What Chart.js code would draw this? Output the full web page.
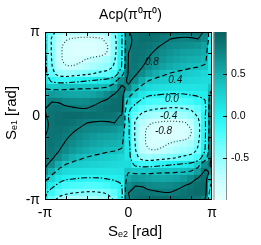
<!DOCTYPE html>
<html lang="en">
<head>
<meta charset="UTF-8">
<title>Acp(π0π0)</title>
<script src="https://cdn.jsdelivr.net/npm/chart.js"></script>
<style>
  * { margin: 0; padding: 0; box-sizing: border-box; }
  html, body { width: 261px; height: 245px; background: #fff; overflow: hidden; }
</style>
</head>
<body>
<canvas id="acp-chart" width="261" height="245"></canvas>
<script>
// ---- data ----
const PI = Math.PI;
// S_e2 (x) and S_e1 (y) grid nodes, in units of pi/12
const colSteps = [-12, -11, -10, -9, -8, -7, -6, -5, -4, -3, -2, -1, 0, 1, 2, 3, 4, 5, 6, 7, 8, 9, 10, 11, 12];
const rowSteps = [12, 11, 10, 9, 8, 7, 6, 5, 4, 3, 2, 1, 0, -1, -2, -3, -4, -5, -6, -7, -8, -9, -10, -11, -12];
// Acp values, one row per S_e1 node (top row = +pi)
const acpGrid = [
  [0.00, -0.30, -0.50, -0.57, -0.61, -0.63, -0.63, -0.62, -0.58, -0.50, -0.38, -0.03, 0.78, 0.88, 0.91, 0.92, 0.93, 0.92, 0.91, 0.90, 0.89, 0.88, 0.86, 0.78, 0.00],
  [0.05, -0.45, -0.68, -0.78, -0.82, -0.85, -0.86, -0.85, -0.83, -0.72, -0.48, -0.05, 0.74, 0.87, 0.90, 0.90, 0.88, 0.84, 0.80, 0.78, 0.77, 0.78, 0.80, 0.74, 0.05],
  [0.05, -0.45, -0.75, -0.85, -0.90, -0.92, -0.92, -0.91, -0.88, -0.80, -0.50, -0.05, 0.76, 0.87, 0.88, 0.86, 0.82, 0.78, 0.74, 0.72, 0.70, 0.68, 0.66, 0.60, 0.05],
  [0.05, -0.45, -0.75, -0.86, -0.92, -0.93, -0.93, -0.92, -0.88, -0.78, -0.48, -0.05, 0.80, 0.87, 0.86, 0.82, 0.77, 0.72, 0.67, 0.63, 0.60, 0.58, 0.56, 0.52, 0.05],
  [0.08, -0.42, -0.75, -0.85, -0.88, -0.84, -0.78, -0.72, -0.68, -0.60, -0.42, -0.03, 0.82, 0.87, 0.84, 0.78, 0.72, 0.66, 0.61, 0.57, 0.54, 0.51, 0.49, 0.46, 0.08],
  [0.10, -0.38, -0.70, -0.78, -0.78, -0.74, -0.68, -0.62, -0.56, -0.50, -0.35, 0.00, 0.84, 0.85, 0.80, 0.72, 0.64, 0.58, 0.53, 0.48, 0.45, 0.42, 0.40, 0.36, 0.10],
  [0.12, -0.30, -0.50, -0.55, -0.52, -0.48, -0.43, -0.38, -0.33, -0.28, -0.18, 0.25, 0.85, 0.82, 0.72, 0.60, 0.50, 0.43, 0.38, 0.35, 0.33, 0.30, 0.27, 0.22, 0.12],
  [0.18, -0.05, -0.12, -0.12, -0.08, -0.04, 0.00, 0.04, 0.08, 0.12, 0.30, 0.70, 0.84, 0.72, 0.52, 0.38, 0.32, 0.30, 0.28, 0.26, 0.24, 0.22, 0.20, 0.18, 0.18],
  [0.38, 0.33, 0.33, 0.35, 0.37, 0.38, 0.38, 0.39, 0.40, 0.45, 0.60, 0.85, 0.75, 0.50, 0.30, 0.20, 0.17, 0.15, 0.14, 0.13, 0.12, 0.12, 0.12, 0.13, 0.38],
  [0.55, 0.62, 0.60, 0.57, 0.55, 0.54, 0.55, 0.57, 0.63, 0.72, 0.83, 0.90, 0.50, 0.25, 0.10, 0.02, 0.00, -0.02, -0.03, -0.03, -0.02, 0.00, 0.02, 0.05, 0.55],
  [0.72, 0.80, 0.79, 0.74, 0.72, 0.71, 0.72, 0.76, 0.80, 0.86, 0.90, 0.92, 0.25, 0.05, -0.08, -0.15, -0.18, -0.20, -0.22, -0.22, -0.20, -0.15, -0.08, -0.02, 0.72],
  [0.80, 0.86, 0.87, 0.85, 0.83, 0.81, 0.81, 0.84, 0.87, 0.90, 0.92, 0.92, 0.05, -0.12, -0.28, -0.36, -0.40, -0.42, -0.44, -0.44, -0.42, -0.38, -0.28, -0.10, 0.80],
  [0.78, 0.88, 0.91, 0.92, 0.93, 0.92, 0.91, 0.90, 0.89, 0.88, 0.86, 0.78, 0.00, -0.30, -0.50, -0.57, -0.61, -0.63, -0.63, -0.62, -0.58, -0.50, -0.38, -0.03, 0.78],
  [0.74, 0.87, 0.90, 0.90, 0.88, 0.84, 0.80, 0.78, 0.77, 0.78, 0.80, 0.74, 0.05, -0.45, -0.68, -0.78, -0.82, -0.85, -0.86, -0.85, -0.83, -0.72, -0.48, -0.05, 0.74],
  [0.76, 0.87, 0.88, 0.86, 0.82, 0.78, 0.74, 0.72, 0.70, 0.68, 0.66, 0.60, 0.05, -0.45, -0.75, -0.85, -0.90, -0.92, -0.92, -0.91, -0.88, -0.80, -0.50, -0.05, 0.76],
  [0.80, 0.87, 0.86, 0.82, 0.77, 0.72, 0.67, 0.63, 0.60, 0.58, 0.56, 0.52, 0.05, -0.45, -0.75, -0.86, -0.92, -0.93, -0.93, -0.92, -0.88, -0.78, -0.48, -0.05, 0.80],
  [0.82, 0.87, 0.84, 0.78, 0.72, 0.66, 0.61, 0.57, 0.54, 0.51, 0.49, 0.46, 0.08, -0.42, -0.75, -0.85, -0.88, -0.84, -0.78, -0.72, -0.68, -0.60, -0.42, -0.03, 0.82],
  [0.84, 0.85, 0.80, 0.72, 0.64, 0.58, 0.53, 0.48, 0.45, 0.42, 0.40, 0.36, 0.10, -0.38, -0.70, -0.78, -0.78, -0.74, -0.68, -0.62, -0.56, -0.50, -0.35, 0.00, 0.84],
  [0.85, 0.82, 0.72, 0.60, 0.50, 0.43, 0.38, 0.35, 0.33, 0.30, 0.27, 0.22, 0.12, -0.30, -0.50, -0.55, -0.52, -0.48, -0.43, -0.38, -0.33, -0.28, -0.18, 0.25, 0.85],
  [0.84, 0.72, 0.52, 0.38, 0.32, 0.30, 0.28, 0.26, 0.24, 0.22, 0.20, 0.18, 0.18, -0.05, -0.12, -0.12, -0.08, -0.04, 0.00, 0.04, 0.08, 0.12, 0.30, 0.70, 0.84],
  [0.75, 0.50, 0.30, 0.20, 0.17, 0.15, 0.14, 0.13, 0.12, 0.12, 0.12, 0.13, 0.38, 0.33, 0.33, 0.35, 0.37, 0.38, 0.38, 0.39, 0.40, 0.45, 0.60, 0.85, 0.75],
  [0.50, 0.25, 0.10, 0.02, 0.00, -0.02, -0.03, -0.03, -0.02, 0.00, 0.02, 0.05, 0.55, 0.62, 0.60, 0.57, 0.55, 0.54, 0.55, 0.57, 0.63, 0.72, 0.83, 0.90, 0.50],
  [0.25, 0.05, -0.08, -0.15, -0.18, -0.20, -0.22, -0.22, -0.20, -0.15, -0.08, -0.02, 0.72, 0.80, 0.79, 0.74, 0.72, 0.71, 0.72, 0.76, 0.80, 0.86, 0.90, 0.92, 0.25],
  [0.05, -0.12, -0.28, -0.36, -0.40, -0.42, -0.44, -0.44, -0.42, -0.38, -0.28, -0.10, 0.80, 0.86, 0.87, 0.85, 0.83, 0.81, 0.81, 0.84, 0.87, 0.90, 0.92, 0.92, 0.05],
  [0.00, -0.30, -0.50, -0.57, -0.61, -0.63, -0.63, -0.62, -0.58, -0.50, -0.38, -0.03, 0.78, 0.88, 0.91, 0.92, 0.93, 0.92, 0.91, 0.90, 0.89, 0.88, 0.86, 0.78, 0.00]
];
const contourLevels = [0.8, 0.4, 0.0, -0.4, -0.8];
const contourLabels = ['0.8', '0.4', '0.0', '-0.4', '-0.8'];
const contourLabelU = [0.28, 0.56, 0.52, 0.48, 0.42];   // label spots, units of pi
const contourLabelV = [0.64, 0.43, 0.20, 0.00, -0.18];
const axisTickSteps = [-1, 0, 1];
const axisTickLabels = ['-π', '0', 'π'];
const minorTickSteps = [-0.75, -0.5, -0.25, 0, 0.25, 0.5, 0.75];
const cbTicks = [-0.5, 0.0, 0.5];

// ---- styling ----
const FONT = "'Liberation Sans', Arial, Helvetica, sans-serif";
const paletteStops = [
  [-1.0, [228, 255, 255]],
  [-0.8, [205, 255, 255]],
  [-0.5, [145, 255, 255]],
  [-0.2, [75, 252, 252]],
  [0.0, [38, 242, 242]],
  [0.4, [22, 192, 192]],
  [0.7, [15, 142, 142]],
  [1.0, [10, 96, 96]]
];
const levelStyle = {
  '0.8': { dash: [], color: '#000' },
  '0.4': { dash: [5, 3], color: '#000' },
  '0': { dash: [6, 2, 1.5, 2], color: '#000' },
  '-0.4': { dash: [3, 2.5], color: '#000' },
  '-0.8': { dash: [1, 2], color: '#333' }
};

function paletteColor(v) {
  if (v <= paletteStops[0][0]) v = paletteStops[0][0];
  for (let i = 1; i < paletteStops.length; i++) {
    const [v1, c1] = paletteStops[i];
    const [v0, c0] = paletteStops[i - 1];
    if (v <= v1 || i === paletteStops.length - 1) {
      const t = Math.min(1, Math.max(0, (v - v0) / (v1 - v0)));
      const c = c0.map((a, k) => Math.round(a + t * (c1[k] - a)));
      return `rgb(${c[0]},${c[1]},${c[2]})`;
    }
  }
}

// marching squares on acpGrid, segments chained into polylines
function contourLines(level) {
  const pts = {}, adj = {}, segs = [];
  const gx = j => colSteps[j] / 12 * PI;
  const gy = i => rowSteps[i] / 12 * PI;
  const above = z => z >= level;
  const edge = (key, xa, ya, za, xb, yb, zb) => {
    if (!pts[key]) {
      const t = (level - za) / (zb - za);
      pts[key] = { x: xa + t * (xb - xa), y: ya + t * (yb - ya) };
    }
    return key;
  };
  for (let i = 0; i < acpGrid.length - 1; i++) {
    for (let j = 0; j < acpGrid[0].length - 1; j++) {
      const tl = acpGrid[i][j], tr = acpGrid[i][j + 1];
      const br = acpGrid[i + 1][j + 1], bl = acpGrid[i + 1][j];
      const top = above(tl) !== above(tr) ? edge(`h${i},${j}`, gx(j), gy(i), tl, gx(j + 1), gy(i), tr) : null;
      const right = above(tr) !== above(br) ? edge(`v${i},${j + 1}`, gx(j + 1), gy(i), tr, gx(j + 1), gy(i + 1), br) : null;
      const bottom = above(bl) !== above(br) ? edge(`h${i + 1},${j}`, gx(j), gy(i + 1), bl, gx(j + 1), gy(i + 1), br) : null;
      const left = above(tl) !== above(bl) ? edge(`v${i},${j}`, gx(j), gy(i), tl, gx(j), gy(i + 1), bl) : null;
      const hit = [top, right, bottom, left].filter(Boolean);
      if (hit.length === 2) {
        segs.push(hit);
      } else if (hit.length === 4) {
        const centre = (tl + tr + br + bl) / 4;
        if (above(centre) === above(tl)) { segs.push([top, right]); segs.push([bottom, left]); }
        else { segs.push([top, left]); segs.push([right, bottom]); }
      }
    }
  }
  segs.forEach((s, k) => { (adj[s[0]] = adj[s[0]] || []).push(k); (adj[s[1]] = adj[s[1]] || []).push(k); });
  const used = segs.map(() => false);
  const lines = [];
  const keys = Object.keys(adj).sort((a, b) => adj[a].length - adj[b].length);
  keys.forEach(start => {
    adj[start].forEach(first => {
      if (used[first]) return;
      const line = [pts[start]];
      let cur = start, seg = first;
      while (seg !== undefined) {
        used[seg] = true;
        const nxt = segs[seg][0] === cur ? segs[seg][1] : segs[seg][0];
        line.push(pts[nxt]);
        cur = nxt;
        seg = adj[cur].find(s => !used[s]);
      }
      lines.push(line);
    });
  });
  return lines;
}

// ---- datasets ----
const heatCells = [];
acpGrid.forEach((row, i) => row.forEach((z, j) => {
  heatCells.push({ x: colSteps[j] / 12 * PI, y: rowSteps[i] / 12 * PI, z: z });
}));

const contourSets = [];
contourLevels.forEach(level => {
  const st = levelStyle[String(level)];
  contourLines(level).forEach(line => {
    contourSets.push({
      data: line,
      showLine: true,
      pointRadius: 0,
      borderColor: st.color,
      borderWidth: 1.1,
      borderDash: st.dash,
      tension: 0.3,
      fill: false,
      clip: 0,
      order: 0
    });
  });
});

const heatSet = {
  data: heatCells,
  pointStyle: 'rect',
  borderWidth: 0,
  clip: 0,
  order: 10,
  backgroundColor: ctx => paletteColor(ctx.raw ? ctx.raw.z : 0),
  pointRadius: ctx => {
    const a = ctx.chart.chartArea;
    if (!a) return 4;
    const half = Math.max((a.right - a.left), (a.bottom - a.top)) / 24 / 2 + 0.6;
    return half / Math.SQRT1_2;
  }
};

// ---- drawing helpers ----
function drawSubLabel(ctx, cx, cy, rotate) {
  const parts = [['S', 15, 0], ['e' + (rotate ? '1' : '2'), 9, 3], [' [rad]', 15, 0]];
  ctx.save();
  ctx.translate(cx, cy);
  if (rotate) ctx.rotate(-Math.PI / 2);
  let total = 0;
  parts.forEach(p => { ctx.font = `${p[1]}px ${FONT}`; total += ctx.measureText(p[0]).width; });
  let x = -total / 2;
  ctx.fillStyle = '#000';
  ctx.textBaseline = 'middle';
  parts.forEach(p => {
    ctx.font = `${p[1]}px ${FONT}`;
    ctx.fillText(p[0], x, p[2]);
    x += ctx.measureText(p[0]).width;
  });
  ctx.restore();
}

const acpDecor = {
  id: 'acpDecor',
  beforeDatasetsDraw(chart) {
    const { ctx, chartArea: a, scales: { cb } } = chart;
    const left = a.right + 1.5, width = 13.5;
    ctx.save();
    for (let py = Math.floor(cb.top); py < cb.bottom; py++) {
      ctx.fillStyle = paletteColor(cb.getValueForPixel(py + 0.5));
      ctx.fillRect(left, py, width, 1);
    }
    ctx.strokeStyle = '#8c8c8c';
    ctx.lineWidth = 1;
    ctx.beginPath();
    ctx.moveTo(left + 0.5, cb.top); ctx.lineTo(left + 0.5, cb.bottom);
    ctx.moveTo(left + width - 0.5, cb.top); ctx.lineTo(left + width - 0.5, cb.bottom);
    ctx.stroke();
    ctx.strokeStyle = '#000';
    ctx.beginPath();
    cbTicks.forEach(v => {
      const py = Math.round(cb.getPixelForValue(v)) + 0.5;
      ctx.moveTo(left + width, py); ctx.lineTo(left + width - 4, py);
    });
    ctx.stroke();
    ctx.restore();
  },
  afterDatasetsDraw(chart) {
    const { ctx, chartArea: a, scales: { x, y } } = chart;
    ctx.save();
    ctx.strokeStyle = '#000';
    ctx.lineWidth = 1;
    ctx.strokeRect(a.left + 0.5, a.top + 0.5, a.right - a.left - 1, a.bottom - a.top - 1);
    ctx.beginPath();
    minorTickSteps.forEach(k => {
      const px = Math.round(x.getPixelForValue(k * PI)) + 0.5;
      ctx.moveTo(px, a.bottom); ctx.lineTo(px, a.bottom - 4);
      ctx.moveTo(px, a.top); ctx.lineTo(px, a.top + 4);
      const py = Math.round(y.getPixelForValue(k * PI)) + 0.5;
      ctx.moveTo(a.left, py); ctx.lineTo(a.left + 4, py);
      ctx.moveTo(a.right, py); ctx.lineTo(a.right - 4, py);
    });
    ctx.stroke();
    ctx.fillStyle = '#111';
    ctx.font = `italic 10px ${FONT}`;
    ctx.textAlign = 'center';
    ctx.textBaseline = 'middle';
    contourLabels.forEach((t, k) => {
      ctx.fillText(t, x.getPixelForValue(contourLabelU[k] * PI), y.getPixelForValue(contourLabelV[k] * PI));
    });
    ctx.restore();
    drawSubLabel(ctx, 12, 113, true);
    drawSubLabel(ctx, 135, 232, false);
  }
};

Chart.defaults.font.family = FONT;
Chart.defaults.color = '#000';

new Chart(document.getElementById('acp-chart'), {
  type: 'scatter',
  data: { datasets: [...contourSets, heatSet] },
  options: {
    responsive: false,
    animation: false,
    devicePixelRatio: 1,
    events: [],
    layout: { padding: 0 },
    plugins: {
      legend: { display: false },
      tooltip: { enabled: false },
      title: {
        display: true,
        text: 'Acp(π⁰π⁰)',
        color: '#000',
        font: { size: 14, weight: 'normal' },
        padding: { top: 7, bottom: 8.2 }
      }
    },
    scales: {
      x: {
        type: 'linear', position: 'bottom', min: -PI, max: PI,
        grid: { display: false, drawTicks: false }, border: { display: false },
        afterBuildTicks: s => { s.ticks = axisTickSteps.map(k => ({ value: k * PI })); },
        afterFit: s => { s.height = 45; },
        ticks: {
          padding: 5, font: { size: 14 }, color: '#000', maxRotation: 0, autoSkip: false,
          callback: v => axisTickLabels[axisTickSteps.indexOf(Math.round(v / PI))]
        }
      },
      y: {
        type: 'linear', position: 'left', min: -PI, max: PI,
        grid: { display: false, drawTicks: false }, border: { display: false },
        afterBuildTicks: s => { s.ticks = axisTickSteps.map(k => ({ value: k * PI })); },
        afterFit: s => { s.width = 45; },
        ticks: {
          padding: 5, font: { size: 14 }, color: '#000', autoSkip: false,
          callback: v => axisTickLabels[axisTickSteps.indexOf(Math.round(v / PI))]
        }
      },
      cb: {
        type: 'linear', axis: 'y', position: 'right', min: -1, max: 1,
        grid: { display: false, drawTicks: false }, border: { display: false },
        afterBuildTicks: s => { s.ticks = cbTicks.map(v => ({ value: v })); },
        afterFit: s => { s.width = 49; },
        ticks: { padding: 19, font: { size: 10.5 }, color: '#000', callback: v => v.toFixed(1) }
      }
    }
  },
  plugins: [acpDecor]
});
</script>
</body>
</html>
